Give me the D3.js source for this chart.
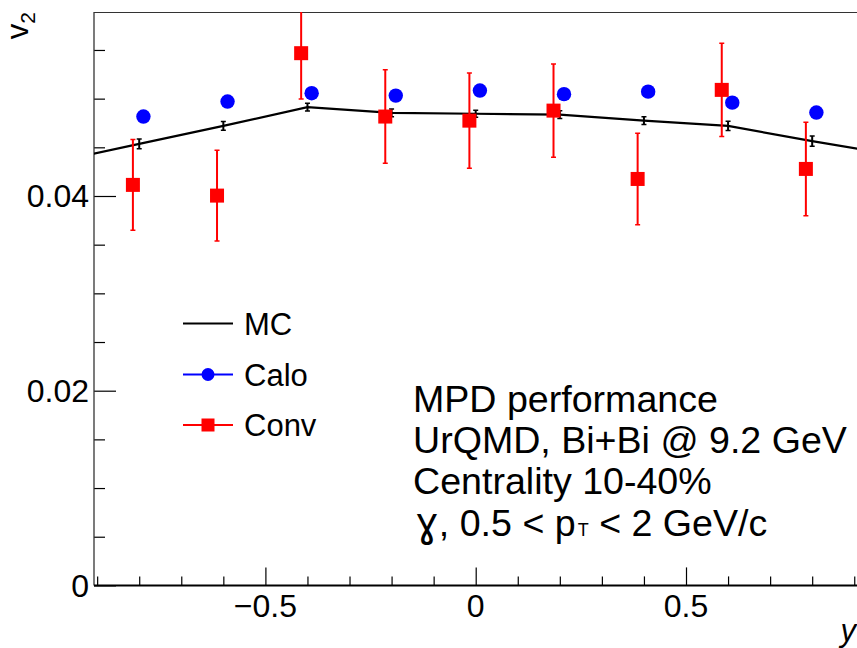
<!DOCTYPE html>
<html>
<head>
<meta charset="utf-8">
<script src="https://cdn.jsdelivr.net/npm/d3@7"></script>
<style>
html,body{margin:0;padding:0;background:#fff;}
svg{display:block;font-family:"Liberation Sans",Arial,Helvetica,sans-serif;}
</style>
</head>
<body>
<svg id="chart" width="857" height="648"></svg>
<script>
// ---- data ----
const mcX      = [-1.0, -0.8, -0.6, -0.4, -0.2, 0.0, 0.2, 0.4, 0.6, 0.8, 1.0];
const mcV2     = [0.0435, 0.04535, 0.0472, 0.04912, 0.04854, 0.04845, 0.04835, 0.04774, 0.0472, 0.04563, 0.0442];
const mcErr    = [0.0005, 0.0005, 0.00045, 0.0004, 0.0004, 0.00035, 0.0004, 0.0004, 0.00048, 0.00052, 0.0005];

const caloX    = [-0.79, -0.59, -0.39, -0.19, 0.01, 0.21, 0.41, 0.61, 0.81];
const caloV2   = [0.04816, 0.0497, 0.05056, 0.05031, 0.05083, 0.05046, 0.05072, 0.04959, 0.04857];
const caloErr  = [0.0003, 0.0003, 0.0003, 0.0003, 0.0003, 0.0003, 0.0003, 0.0003, 0.0003];

const convX    = [-0.815, -0.615, -0.415, -0.215, -0.015, 0.185, 0.385, 0.585, 0.785];
const convV2   = [0.04114, 0.04004, 0.05467, 0.04816, 0.04774, 0.04877, 0.04175, 0.0509, 0.04278];
const convErr  = [0.00466, 0.00467, 0.0047, 0.0048, 0.0049, 0.0048, 0.0047, 0.0048, 0.0048];

const xMajorTicks = [-0.5, 0, 0.5];
const xMajorLabels = ["\u22120.5", "0", "0.5"];
const xMinorTicks = [-0.9, -0.8, -0.7, -0.6, -0.4, -0.3, -0.2, -0.1, 0.1, 0.2, 0.3, 0.4, 0.6, 0.7, 0.8, 0.9];
const yMajorTicks = [0, 0.02, 0.04];
const yMajorLabels = ["0", "0.02", "0.04"];
const yMinorTicks = [0.005, 0.01, 0.015, 0.025, 0.03, 0.035, 0.045, 0.05, 0.055];

const legendLabels = ["MC", "Calo", "Conv"];
const infoLines = ["MPD performance", "UrQMD, Bi+Bi @ 9.2 GeV", "Centrality 10-40%"];

// ---- layout ----
const svg = d3.select("#chart");
const L = 94, R = 857.4, T = 12, B = 585.4;
const x = d3.scaleLinear().domain([-0.9075, 0.9075]).range([L, R]);
const y = d3.scaleLinear().domain([0, 0.0589]).range([B, T]);

const RED = "#ff0000", BLUE = "#0000ff";

svg.append("defs").append("clipPath").attr("id", "clip")
  .append("rect").attr("x", L).attr("y", T).attr("width", R - L).attr("height", B - T);

// frame
svg.append("line").attr("x1", L).attr("x2", R).attr("y1", T + 0.5).attr("y2", T + 0.5)
  .attr("stroke", "#333").attr("stroke-width", 1);

// axes
const xAxisMaj = d3.axisBottom(x).tickValues(xMajorTicks).tickSize(-18).tickFormat("");
const xAxisMin = d3.axisBottom(x).tickValues(xMinorTicks).tickSize(-9).tickFormat("");
const yAxisMaj = d3.axisLeft(y).tickValues(yMajorTicks).tickSize(-22).tickFormat("");
const yAxisMin = d3.axisLeft(y).tickValues(yMinorTicks).tickSize(-11).tickFormat("");

function styleAxis(g) {
  g.select(".domain").remove();
  g.selectAll(".tick line").attr("stroke", "#000").attr("stroke-width", 1.2);
}
svg.append("g").attr("transform", `translate(0,${B})`).call(xAxisMaj).call(styleAxis);
svg.append("g").attr("transform", `translate(0,${B})`).call(xAxisMin).call(styleAxis);
svg.append("g").attr("transform", `translate(${L},0)`).call(yAxisMaj).call(styleAxis);
svg.append("g").attr("transform", `translate(${L},0)`).call(yAxisMin).call(styleAxis);

svg.append("line").attr("x1", L).attr("x2", L).attr("y1", T).attr("y2", B)
  .attr("stroke", "#333").attr("stroke-width", 1.3);
svg.append("line").attr("x1", L).attr("x2", R).attr("y1", B).attr("y2", B)
  .attr("stroke", "#000").attr("stroke-width", 2);

// tick labels
svg.append("g").selectAll("text").data(xMajorTicks).join("text")
  .attr("x", d => x(d)).attr("y", 617).attr("text-anchor", "middle")
  .attr("font-size", 32).attr("fill", "#000")
  .text((d, i) => xMajorLabels[i]);
svg.append("g").selectAll("text").data(yMajorTicks).join("text")
  .attr("x", 89).attr("y", d => y(d) + 11.5).attr("text-anchor", "end")
  .attr("font-size", 32).attr("fill", "#000")
  .text((d, i) => yMajorLabels[i]);

// axis titles
const yt = svg.append("text").attr("transform", "translate(28,12) rotate(-90)")
  .attr("text-anchor", "end").attr("font-size", 31).attr("fill", "#000");
yt.append("tspan").text("v");
yt.append("tspan").attr("font-size", 21).attr("dy", 7).text("2");

svg.append("text").attr("x", 856).attr("y", 641).attr("text-anchor", "end")
  .attr("font-size", 31).attr("font-style", "italic").attr("fill", "#000").text("y");

// data
const plot = svg.append("g").attr("clip-path", "url(#clip)");

// MC
const mcData = mcX.map((d, i) => ({x: d, v: mcV2[i], e: mcErr[i]}));
plot.append("path").datum(mcData)
  .attr("fill", "none").attr("stroke", "#000").attr("stroke-width", 2.2)
  .attr("d", d3.line().x(d => x(d.x)).y(d => y(d.v)));
const mcEb = plot.append("g").selectAll("g").data(mcData).join("g");
mcEb.append("line").attr("x1", d => x(d.x)).attr("x2", d => x(d.x))
  .attr("y1", d => y(d.v - d.e)).attr("y2", d => y(d.v + d.e))
  .attr("stroke", "#000").attr("stroke-width", 2);
mcEb.append("line").attr("x1", d => x(d.x) - 2.5).attr("x2", d => x(d.x) + 2.5)
  .attr("y1", d => y(d.v - d.e)).attr("y2", d => y(d.v - d.e))
  .attr("stroke", "#000").attr("stroke-width", 1.5);
mcEb.append("line").attr("x1", d => x(d.x) - 2.5).attr("x2", d => x(d.x) + 2.5)
  .attr("y1", d => y(d.v + d.e)).attr("y2", d => y(d.v + d.e))
  .attr("stroke", "#000").attr("stroke-width", 1.5);

// Conv
const convData = convX.map((d, i) => ({x: d, v: convV2[i], e: convErr[i]}));
const cg = plot.append("g").selectAll("g").data(convData).join("g");
cg.append("line").attr("x1", d => x(d.x)).attr("x2", d => x(d.x))
  .attr("y1", d => y(d.v - d.e)).attr("y2", d => y(d.v + d.e))
  .attr("stroke", RED).attr("stroke-width", 2);
cg.append("line").attr("x1", d => x(d.x) - 2.5).attr("x2", d => x(d.x) + 2.5)
  .attr("y1", d => y(d.v - d.e)).attr("y2", d => y(d.v - d.e))
  .attr("stroke", RED).attr("stroke-width", 1.5);
cg.append("line").attr("x1", d => x(d.x) - 2.5).attr("x2", d => x(d.x) + 2.5)
  .attr("y1", d => y(d.v + d.e)).attr("y2", d => y(d.v + d.e))
  .attr("stroke", RED).attr("stroke-width", 1.5);
cg.append("rect").attr("x", d => x(d.x) - 7).attr("y", d => y(d.v) - 7)
  .attr("width", 14).attr("height", 14).attr("fill", RED);

// Calo
const caloData = caloX.map((d, i) => ({x: d, v: caloV2[i], e: caloErr[i]}));
const kg = plot.append("g").selectAll("g").data(caloData).join("g");
kg.append("line").attr("x1", d => x(d.x)).attr("x2", d => x(d.x))
  .attr("y1", d => y(d.v - d.e)).attr("y2", d => y(d.v + d.e))
  .attr("stroke", BLUE).attr("stroke-width", 2);
kg.append("circle").attr("cx", d => x(d.x)).attr("cy", d => y(d.v)).attr("r", 7.2)
  .attr("fill", BLUE);

// legend
const legY = [323.5, 374.5, 425];
const lg = svg.append("g");
const legColors = ["#000", BLUE, RED];
legendLabels.forEach((lab, i) => {
  lg.append("line").attr("x1", 183).attr("x2", 233).attr("y1", legY[i]).attr("y2", legY[i])
    .attr("stroke", legColors[i]).attr("stroke-width", 2);
  if (i === 1) lg.append("circle").attr("cx", 208).attr("cy", legY[i]).attr("r", 6.5).attr("fill", BLUE);
  if (i === 2) lg.append("rect").attr("x", 201.5).attr("y", legY[i] - 6.5).attr("width", 13).attr("height", 13).attr("fill", RED);
  lg.append("text").attr("x", 244).attr("y", legY[i] + 11).attr("font-size", 31).attr("fill", "#000").text(lab);
});

// info text
const infoBase = [412, 453, 494, 535.5];
infoLines.forEach((t, i) => {
  svg.append("text").attr("x", 413).attr("y", infoBase[i]).attr("font-size", 37.6).attr("fill", "#000").text(t);
});
const l4 = svg.append("text").attr("x", 413).attr("y", infoBase[3]).attr("font-size", 37.6).attr("fill", "#000");
l4.append("tspan").attr("font-family", "'DejaVu Sans','Liberation Sans',sans-serif").attr("font-size", 40).attr("dx", 2).text("\u0263");
l4.append("tspan").text(", 0.5 < p");
l4.append("tspan").attr("font-size", 18).attr("dx", 2).text("T");
l4.append("tspan").text(" < 2 GeV/c");
</script>
</body>
</html>
